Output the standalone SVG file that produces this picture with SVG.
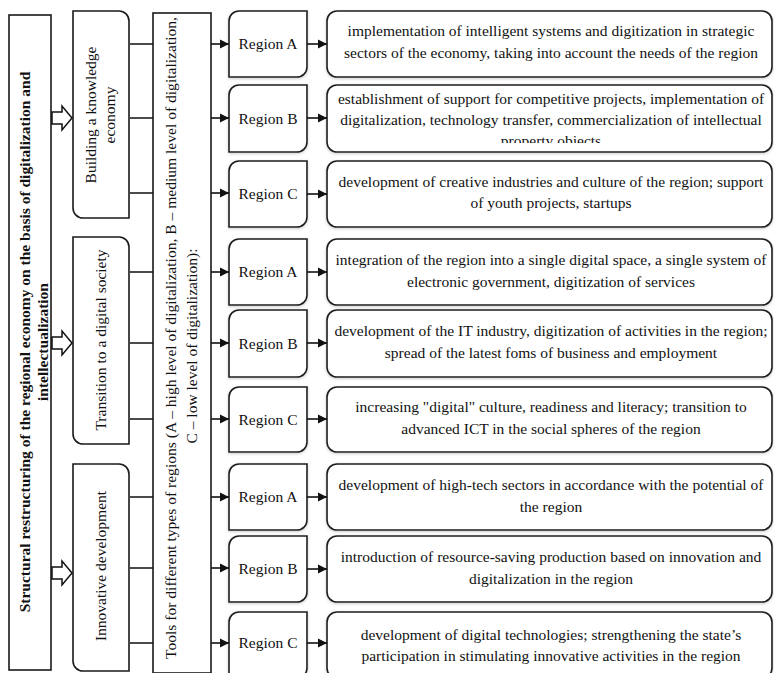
<svg xmlns="http://www.w3.org/2000/svg" width="774" height="673" viewBox="0 0 774 673">
<defs>
<style>
.box{fill:#fff;stroke:#1a1a1a;stroke-width:1.6}
.sh{filter:url(#shadow)}
.t{font-family:"Liberation Serif",serif;font-size:15.5px;fill:#111;text-anchor:middle}
.b{font-weight:bold}
.ln{stroke:#111;stroke-width:1.6;fill:none}
.ar{stroke:#111;stroke-width:1.6;fill:none;marker-end:url(#ah)}
.hol{fill:#fff;stroke:#111;stroke-width:1.5}
</style>
<filter id="shadow" x="-10%" y="-10%" width="120%" height="130%">
<feDropShadow dx="0" dy="1" stdDeviation="1.5" flood-color="#888" flood-opacity="0.45"/>
</filter>
<marker id="ah" markerUnits="userSpaceOnUse" markerWidth="10" markerHeight="10" refX="9" refY="5" orient="auto">
<path d="M0,0.5 L9,5 L0,9.5 Z" fill="#111"/>
</marker>
<clipPath id="clip2"><rect x="327" y="85" width="445" height="58"/></clipPath>
</defs>

<g id="main">
<rect class="box" x="9" y="15" width="42" height="655"/>
<text class="t b" transform="translate(29.5,342) rotate(-90)">Structural restructuring of the regional economy on the basis of digitalization and</text>
<text class="t b" transform="translate(48,342) rotate(-90)">intellectualization</text>
</g>

<g id="stage1">
<path class="box" d="M73,11 H119 A10,10 0 0 1 129,21 V218 H83 A10,10 0 0 1 73,208 Z"/>
<text class="t" transform="translate(96,115) rotate(-90)">Building a knowledge</text>
<text class="t" transform="translate(115,115) rotate(-90)">economy</text>
</g>
<g id="stage2">
<path class="box" d="M73,237 H119 A10,10 0 0 1 129,247 V444 H83 A10,10 0 0 1 73,434 Z"/>
<text class="t" transform="translate(106,340) rotate(-90)">Transition to a digital society</text>
</g>
<g id="stage3">
<path class="box" d="M73,464 H119 A10,10 0 0 1 129,474 V671 H83 A10,10 0 0 1 73,661 Z"/>
<text class="t" transform="translate(106,566) rotate(-90)">Innovative development</text>
</g>

<g id="tools">
<rect class="box" x="153" y="13" width="58" height="660"/>
<text class="t" transform="translate(176,338) rotate(-90)" textLength="642" lengthAdjust="spacingAndGlyphs">Tools for different types of regions (A – high level of digitalization, B – medium level of digitalization,</text>
<text class="t" transform="translate(197,346) rotate(-90)">C – low level of digitalization):</text>
</g>

<g id="regions">
<g id="r1"><path class="box sh" d="M229,21 A10,10 0 0 1 239,11 H307 V67 A10,10 0 0 1 297,77 H229 Z"/><text class="t" x="268" y="49">Region A</text></g>
<g id="r2"><path class="box sh" d="M229,95 A10,10 0 0 1 239,85 H307 V142 A10,10 0 0 1 297,152 H229 Z"/><text class="t" x="268" y="123.5">Region B</text></g>
<g id="r3"><path class="box sh" d="M229,171 A10,10 0 0 1 239,161 H307 V217 A10,10 0 0 1 297,227 H229 Z"/><text class="t" x="268" y="199">Region C</text></g>
<g id="r4"><path class="box sh" d="M229,249 A10,10 0 0 1 239,239 H307 V295 A10,10 0 0 1 297,305 H229 Z"/><text class="t" x="268" y="277">Region A</text></g>
<g id="r5"><path class="box sh" d="M229,320 A10,10 0 0 1 239,310 H307 V367 A10,10 0 0 1 297,377 H229 Z"/><text class="t" x="268" y="348.5">Region B</text></g>
<g id="r6"><path class="box sh" d="M229,397 A10,10 0 0 1 239,387 H307 V442 A10,10 0 0 1 297,452 H229 Z"/><text class="t" x="268" y="424.5">Region C</text></g>
<g id="r7"><path class="box sh" d="M229,474 A10,10 0 0 1 239,464 H307 V520 A10,10 0 0 1 297,530 H229 Z"/><text class="t" x="268" y="502">Region A</text></g>
<g id="r8"><path class="box sh" d="M229,546 A10,10 0 0 1 239,536 H307 V592 A10,10 0 0 1 297,602 H229 Z"/><text class="t" x="268" y="574">Region B</text></g>
<g id="r9"><path class="box sh" d="M229,622 A10,10 0 0 1 239,612 H307 V668 A10,10 0 0 1 297,678 H229 Z"/><text class="t" x="268" y="648">Region C</text></g>
</g>

<g id="descriptions">
<g id="d1"><rect class="box sh" x="327" y="11" width="445" height="66" rx="10"/>
<text class="t" x="551" y="36">implementation of intelligent systems and digitization in strategic</text>
<text class="t" x="551" y="58">sectors of the economy, taking into account the needs of the region</text></g>
<g id="d2"><rect class="box sh" x="327" y="85" width="445" height="67" rx="10"/>
<g clip-path="url(#clip2)">
<text class="t" x="551" y="104">establishment of support for competitive projects, implementation of</text>
<text class="t" x="551" y="125">digitalization, technology transfer, commercialization of intellectual</text>
<text class="t" x="551" y="146">property objects</text></g></g>
<g id="d3"><rect class="box sh" x="327" y="161" width="445" height="66" rx="10"/>
<text class="t" x="551" y="187">development of creative industries and culture of the region; support</text>
<text class="t" x="551" y="208">of youth projects, startups</text></g>
<g id="d4"><rect class="box sh" x="327" y="239" width="445" height="66" rx="10"/>
<text class="t" x="551" y="265">integration of the region into a single digital space, a single system of</text>
<text class="t" x="551" y="287">electronic government, digitization of services</text></g>
<g id="d5"><rect class="box sh" x="327" y="310" width="445" height="67" rx="10"/>
<text class="t" x="551" y="336">development of the IT industry, digitization of activities in the region;</text>
<text class="t" x="551" y="358">spread of the latest foms of business and employment</text></g>
<g id="d6"><rect class="box sh" x="327" y="387" width="445" height="65" rx="10"/>
<text class="t" x="551" y="412">increasing "digital" culture, readiness and literacy; transition to</text>
<text class="t" x="551" y="434">advanced ICT in the social spheres of the region</text></g>
<g id="d7"><rect class="box sh" x="327" y="464" width="445" height="66" rx="10"/>
<text class="t" x="551" y="490">development of high-tech sectors in accordance with the potential of</text>
<text class="t" x="551" y="512">the region</text></g>
<g id="d8"><rect class="box sh" x="327" y="536" width="445" height="66" rx="10"/>
<text class="t" x="551" y="562">introduction of resource-saving production based on innovation and</text>
<text class="t" x="551" y="584">digitalization in the region</text></g>
<g id="d9"><rect class="box sh" x="327" y="612" width="445" height="66" rx="10"/>
<text class="t" x="551" y="640">development of digital technologies; strengthening the state’s</text>
<text class="t" x="551" y="661">participation in stimulating innovative activities in the region</text></g>
</g>

<g id="connectors">
<path class="hol" d="M52,112 H62 V106 L72,118 L62,130 V124 H52 Z"/>
<path class="hol" d="M52,337 H62 V331 L72,343 L62,355 V349 H52 Z"/>
<path class="hol" d="M52,567 H62 V561 L72,573 L62,585 V579 H52 Z"/>
<path class="ln" d="M130,44 H153 M130,118 H153 M130,193 H153 M130,272 H153 M130,343 H153 M130,419 H153 M130,497 H153 M130,568 H153 M130,643 H153"/>
<line class="ar" x1="211" y1="44" x2="229" y2="44"/>
<line class="ar" x1="211" y1="118" x2="229" y2="118"/>
<line class="ar" x1="211" y1="193" x2="229" y2="193"/>
<line class="ar" x1="211" y1="272" x2="229" y2="272"/>
<line class="ar" x1="211" y1="343" x2="229" y2="343"/>
<line class="ar" x1="211" y1="419" x2="229" y2="419"/>
<line class="ar" x1="211" y1="497" x2="229" y2="497"/>
<line class="ar" x1="211" y1="568" x2="229" y2="568"/>
<line class="ar" x1="211" y1="643" x2="229" y2="643"/>
<line class="ar" x1="307" y1="44" x2="327" y2="44"/>
<line class="ar" x1="307" y1="118" x2="327" y2="118"/>
<line class="ar" x1="307" y1="194" x2="327" y2="194"/>
<line class="ar" x1="307" y1="272" x2="327" y2="272"/>
<line class="ar" x1="307" y1="343" x2="327" y2="343"/>
<line class="ar" x1="307" y1="419" x2="327" y2="419"/>
<line class="ar" x1="307" y1="497" x2="327" y2="497"/>
<line class="ar" x1="307" y1="569" x2="327" y2="569"/>
<line class="ar" x1="307" y1="643" x2="327" y2="643"/>
</g>
</svg>
